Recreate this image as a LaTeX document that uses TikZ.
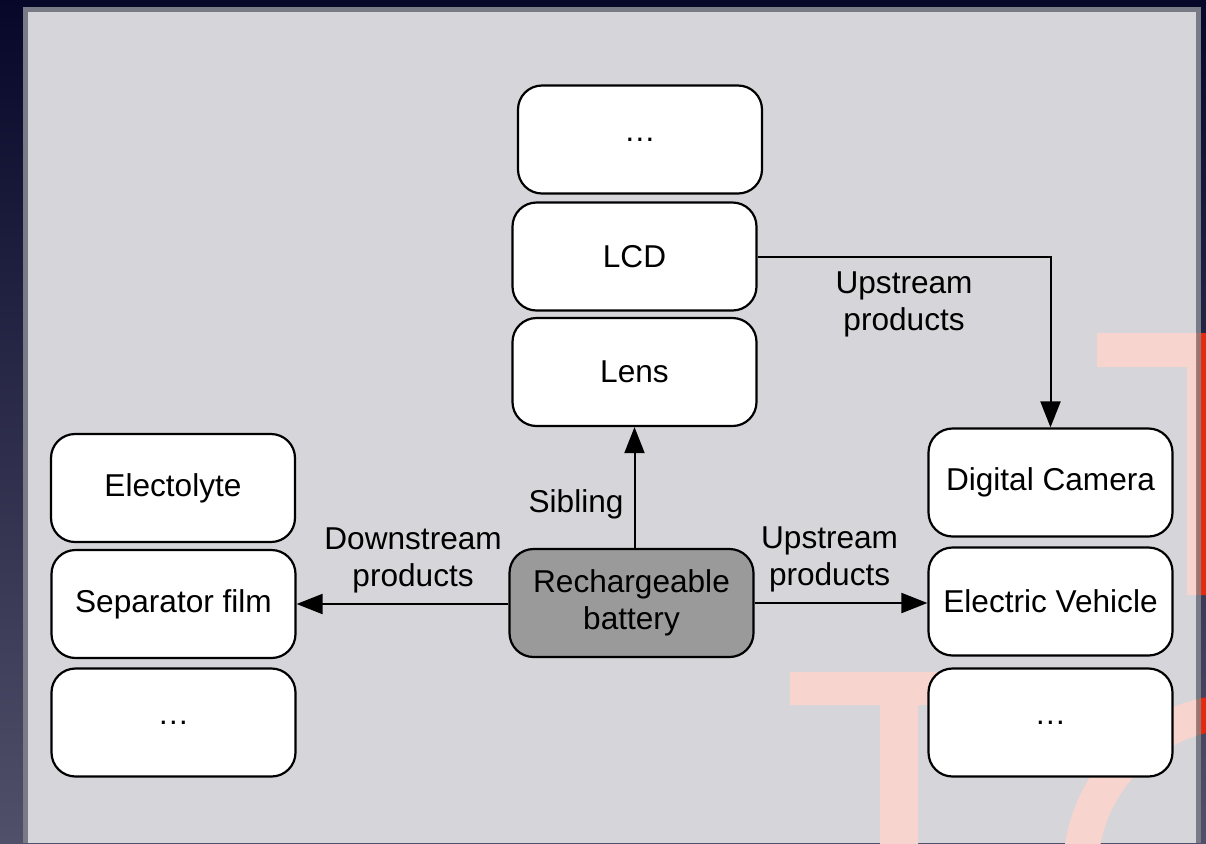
\documentclass[tikz,border=0pt]{standalone}
\usepackage{fontspec}
\setmainfont{Liberation Sans}
\usetikzlibrary{arrows.meta}

\definecolor{bgtop}{HTML}{07072A}
\definecolor{bgbot}{HTML}{50506A}
\definecolor{panelfill}{HTML}{D5D5DA}
\definecolor{panelrim}{HTML}{787A85}
\definecolor{markred}{HTML}{E3290F}
\definecolor{markpink}{HTML}{F8D4CF}
\definecolor{markrim}{HTML}{9C7571}
\definecolor{hubgray}{HTML}{9A9A9A}

\tikzset{
  item/.style={draw=black, line width=1.1pt, fill=white, rounded corners=12pt,
    minimum width=122pt, minimum height=54pt, inner sep=0pt,
    font=\fontsize{15.8}{18.6}\selectfont, align=center},
  hub/.style={item, fill=hubgray},
  link/.style={draw=black, line width=1pt, -{Triangle[length=13pt,width=10pt]}},
  tag/.style={font=\fontsize{15.8}{18.6}\selectfont, align=center, text=black}
}

% lettering behind the panel, filled in one colour
\newcommand{\markshapes}[1]{%
  \fill[#1] (1097,333) -- (1210,333) -- (1210,595) -- (1187,595)
            -- (1187,367) -- (1097,367) -- cycle;
  \fill[#1] (790,672) -- (1008,672) -- (1008,705) -- (918,705)
            -- (918,850) -- (880,850) -- (880,705) -- (790,705) -- cycle;
  \fill[#1, even odd rule] (1240,871) circle[radius=177]
            (1240,871) circle[radius=142];}

\begin{document}
\begin{tikzpicture}[x=0.5pt, y=-0.5pt]
  \useasboundingbox (0,0) rectangle (1206,843);

  % backdrop
  \shade[top color=bgtop, bottom color=bgbot] (0,0) rectangle (1206,843);

  % lettering seen outside the panel
  \begin{scope}
    \clip (1201,0) rectangle (1206,843);
    \markshapes{markred}
  \end{scope}

  % panel
  \fill[panelrim] (23,7) rectangle (1201,843);
  \fill[panelfill] (28,12) rectangle (1196,843);

  % lettering seen through the panel rim
  \begin{scope}
    \clip (1196,7) rectangle (1201,843);
    \markshapes{markrim}
  \end{scope}
  % lettering seen through the panel face
  \begin{scope}
    \clip (28,12) rectangle (1196,843);
    \markshapes{markpink}
  \end{scope}

  % centre column
  \node[item] (more1) at (640,139.5) {…};
  \node[item] (lcd)   at (634.5,256.5) {LCD};
  \node[item] (lens)  at (634.5,372) {Lens};
  \node[hub]  (batt)  at (631.5,603) {Rechargeable\\battery};

  % left column
  \node[item] (elec)  at (173,488) {Electolyte};
  \node[item] (sep)   at (173.5,604) {Separator film};
  \node[item] (more2) at (173.5,722.5) {…};

  % right column
  \node[item] (cam)   at (1050.5,482.5) {Digital Camera};
  \node[item] (ev)    at (1050.5,601.5) {Electric Vehicle};
  \node[item] (more3) at (1050.5,722.5) {…};

  % connectors
  \draw[link] (batt.north -| lens.south) -- (lens.south)
    node[tag, pos=0.36, anchor=east, inner sep=0pt, xshift=-5pt] {Sibling};
  \draw[link] (batt.west |- sep.east) -- (sep.east)
    node[tag, pos=0.45, anchor=south, inner sep=0pt, yshift=5pt] {Downstream\\products};
  \draw[link] (batt.east) -- (ev.west |- batt.east)
    node[tag, pos=0.434, anchor=south, inner sep=0pt, yshift=5pt] {Upstream\\products};
  \draw[link] (lcd.east) -| (cam.north)
    node[tag, pos=0.25, anchor=north, inner sep=0pt, yshift=-7pt] {Upstream\\products};
\end{tikzpicture}
\end{document}
